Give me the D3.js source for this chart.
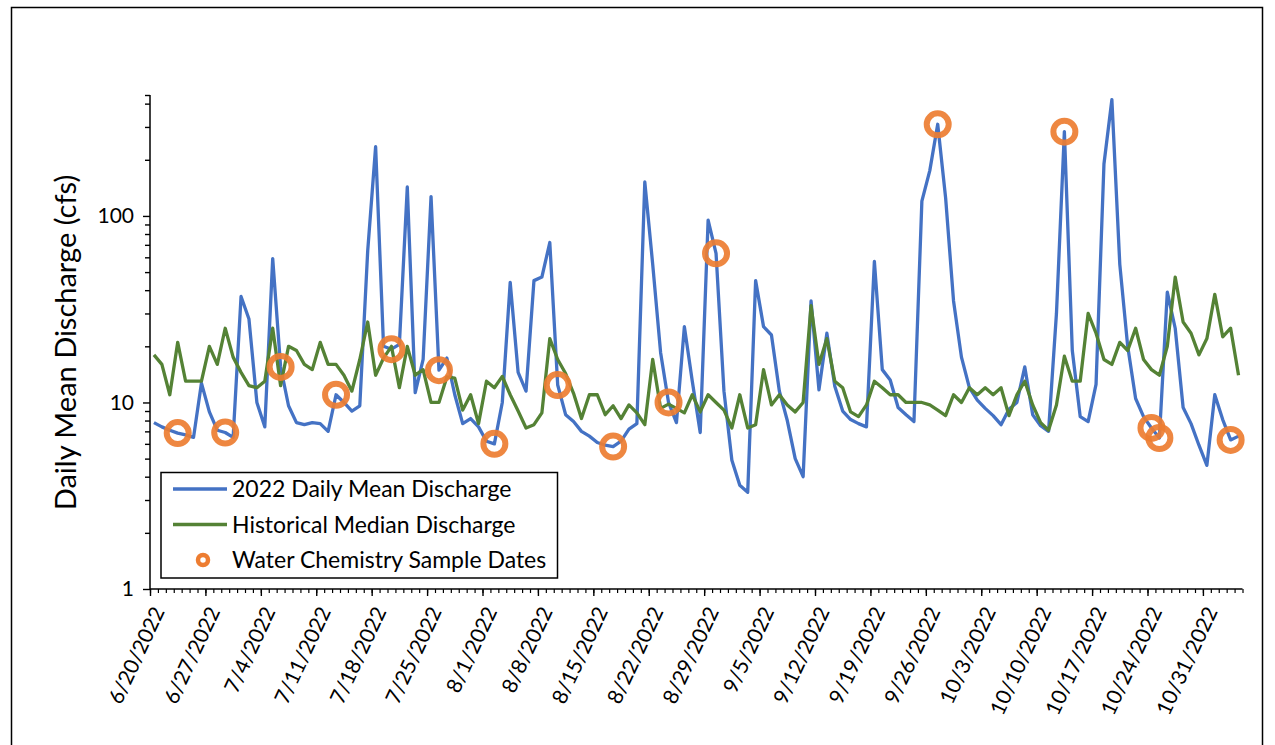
<!DOCTYPE html>
<html>
<head>
<meta charset="utf-8">
<script src="https://cdn.jsdelivr.net/npm/d3@7"></script>
<style>
  html, body { margin: 0; padding: 0; background: #fff; }
  svg { display: block; }
  text { font-family: Lato, "Open Sans", sans-serif; fill: #000; }
</style>
</head>
<body>
<svg id="chart" width="1275" height="745"></svg>
<script>
// ---- data ----
const startDate = "2022-06-20";
const endDate = "2022-11-05"; // exclusive
const dailyMean2022 = [
  7.8, 7.4, 7.1, 6.85, 6.7, 6.5, 12.7, 8.9, 7.1, 6.9,
  6.5, 37, 28, 10, 7.4, 59, 15.5, 9.6, 7.8, 7.6,
  7.8, 7.7, 7.0, 11, 10, 9.0, 9.6, 65, 235, 20,
  19.3, 20.5, 143, 11.3, 17, 127, 14.9, 17.3, 11, 7.7,
  8.2, 7.4, 6.2, 6.0, 10, 44, 14.5, 11.5, 45, 47,
  72, 12.4, 8.6, 7.9, 7.0, 6.6, 6.1, 5.9, 5.8, 6.2,
  7.2, 7.7, 152, 55, 18.5, 10, 7.8, 25.5, 13, 6.9,
  95, 63, 11.5, 4.9, 3.6, 3.3, 45, 25.5, 23, 11.5,
  8.0, 5.0, 4.0, 35, 11.7, 23.5, 12.2, 9.0, 8.1, 7.7,
  7.4, 57, 15, 13.2, 9.4, 8.6, 7.9, 120, 175, 310,
  125, 35, 17.5, 12, 10.3, 9.3, 8.5, 7.6, 9.2, 10,
  15.5, 8.6, 7.5, 7.0, 30, 283, 19, 8.4, 7.9, 12.5,
  190, 420, 55, 20, 10.5, 8.4, 7.3, 6.45, 39, 25,
  9.4, 7.7, 5.9, 4.6, 11, 8.1, 6.3, 6.6
];
const historicalMedian = [
  18, 16, 11, 21, 13, 13, 13, 20, 16, 25,
  17.5, 14.5, 12.3, 12, 13, 25, 12.3, 20, 19, 16,
  15, 21, 16, 16, 14, 11.5, 17, 27, 14, 17.3,
  20, 12, 20, 14, 15, 10, 10, 13.7, 13.5, 9.1,
  11, 7.7, 13, 12, 13.8, 11, 9, 7.3, 7.6, 8.8,
  22, 17, 14.3, 11.2, 8.2, 11, 11, 8.6, 9.6, 8.2,
  9.7, 8.8, 7.6, 17, 9.3, 9.8, 9.3, 8.8, 11, 8.9,
  11, 10, 9.1, 7.3, 11, 7.3, 7.6, 15, 9.7, 11,
  9.7, 8.9, 10, 33, 16, 22, 13, 12, 8.9, 8.4,
  9.7, 13, 12, 11, 11, 10, 10, 10, 9.7, 9.1,
  8.5, 11, 10, 12, 11, 12, 11, 12, 8.5, 11,
  13, 9.7, 7.8, 7.1, 9.7, 17.7, 13, 13, 30, 23.5,
  17, 16, 21, 19, 25, 17, 15, 14, 20, 47,
  27, 23.5, 18, 22, 38, 22.5, 25, 14
];
const sampleDates = [
  "2022-06-23", "2022-06-29", "2022-07-06", "2022-07-13", "2022-07-20", "2022-07-26",
  "2022-08-02", "2022-08-10", "2022-08-17", "2022-08-24", "2022-08-30", "2022-09-27",
  "2022-10-13", "2022-10-24", "2022-10-25", "2022-11-03"
];
const sampleValues = [6.85, 6.9, 15.5, 11, 19.3, 14.9, 6.0, 12.4, 5.8, 10, 63, 310, 283, 7.3, 6.45, 6.3];
const yMajorTicks = [1, 10, 100];
const yMinorTicks = [2,3,4,5,6,7,8,9,20,30,40,50,60,70,80,90,200,300,400];
const yMax = 445;
const seriesNames = ["2022 Daily Mean Discharge", "Historical Median Discharge", "Water Chemistry Sample Dates"];
const colors = { blue: "#4472C4", green: "#548235", orange: "#ED7D31" };

// ---- setup ----
const svg = d3.select("#chart");
const parse = d3.utcParse("%Y-%m-%d");
const d0 = parse(startDate), d1 = parse(endDate);
const days = d3.utcDay.range(d0, d1);
const mid = d => d3.utcHour.offset(d, 12);

const plot = { left: 150, right: 1242.5, top: 95, bottom: 589 };
const x = d3.scaleUtc().domain([d0, d1]).range([plot.left, plot.right]);
const y = d3.scaleLog().domain([1, yMax]).range([plot.bottom, plot.top]);

// outer border
svg.append("rect").attr("x", 11.5).attr("y", 7.5).attr("width", 1251).attr("height", 800)
  .attr("fill", "none").attr("stroke", "#000").attr("stroke-width", 1.5);

// ---- x axis ----
const weekTicks = days.filter((d, i) => i % 7 === 0);
const gx = svg.append("g").attr("transform", `translate(0,${plot.bottom})`);
gx.call(d3.axisBottom(x).tickValues(d3.utcDay.range(d0, d3.utcDay.offset(d1, 1))).tickSize(4).tickFormat(""))
  .call(g => g.select(".domain").remove());
gx.selectAll(".tick line").attr("stroke", "#000").attr("stroke-width", 1.2);
const gx2 = svg.append("g").attr("transform", `translate(0,${plot.bottom})`);
gx2.call(d3.axisBottom(x).tickValues(weekTicks).tickSize(7).tickFormat(d3.utcFormat("%-m/%-d/%Y")))
  .call(g => g.select(".domain").remove());
gx2.selectAll(".tick line").attr("stroke", "#000").attr("stroke-width", 1.4);
gx2.selectAll(".tick text")
  .attr("font-size", 21)
  .attr("text-anchor", "end")
  .attr("y", 0).attr("dy", "0.35em")
  .attr("transform", "translate(8,19) rotate(-65)");
svg.append("line").attr("x1", plot.left).attr("x2", plot.right).attr("y1", plot.bottom).attr("y2", plot.bottom)
  .attr("stroke", "#000").attr("stroke-width", 1.5);

// ---- y axis ----
const gyMinor = svg.append("g").attr("transform", `translate(${plot.left},0)`);
gyMinor.call(d3.axisLeft(y).tickValues(yMinorTicks.concat([yMax])).tickSize(5).tickFormat(""))
  .call(g => g.select(".domain").remove());
gyMinor.selectAll(".tick line").attr("stroke", "#000").attr("stroke-width", 1.4);
const gy = svg.append("g").attr("transform", `translate(${plot.left},0)`);
gy.call(d3.axisLeft(y).tickValues(yMajorTicks).tickSize(7).tickFormat(d3.format("d")))
  .call(g => g.select(".domain").remove());
gy.selectAll(".tick line").attr("stroke", "#000").attr("stroke-width", 1.4);
gy.selectAll(".tick text").attr("font-size", 21).attr("x", -16);
svg.append("line").attr("x1", plot.left).attr("x2", plot.left).attr("y1", plot.top).attr("y2", plot.bottom)
  .attr("stroke", "#000").attr("stroke-width", 1.5);

svg.append("text")
  .attr("transform", `translate(76,${(173 + 512) / 2}) rotate(-90)`)
  .attr("text-anchor", "middle")
  .attr("font-size", 29)
  .text("Daily Mean Discharge (cfs)");

// ---- series ----
const line = d3.line().x((v, i) => x(mid(days[i]))).y(v => y(v));
svg.append("path").datum(dailyMean2022).attr("d", line)
  .attr("fill", "none").attr("stroke", colors.blue).attr("stroke-width", 3.3).attr("stroke-linejoin", "round");
svg.append("path").datum(historicalMedian).attr("d", line)
  .attr("fill", "none").attr("stroke", colors.green).attr("stroke-width", 3.3).attr("stroke-linejoin", "round");

svg.append("g").selectAll("circle").data(sampleDates).join("circle")
  .attr("cx", d => x(mid(parse(d))))
  .attr("cy", (d, i) => y(sampleValues[i]))
  .attr("r", 11)
  .attr("fill", "none")
  .attr("stroke", colors.orange)
  .attr("stroke-width", 6)
  .attr("stroke-opacity", 0.92);

// ---- legend ----
const lg = svg.append("g");
lg.append("rect").attr("x", 161).attr("y", 472.5).attr("width", 396.5).attr("height", 105.5)
  .attr("fill", "#fff").attr("stroke", "#000").attr("stroke-width", 1.5);
const rowsY = [489, 524.5, 560];
[colors.blue, colors.green].forEach((c, i) => {
  lg.append("line").attr("x1", 173).attr("x2", 227).attr("y1", rowsY[i]).attr("y2", rowsY[i])
    .attr("stroke", c).attr("stroke-width", 3.3);
});
lg.append("circle").attr("cx", 203).attr("cy", rowsY[2]).attr("r", 5)
  .attr("fill", "#fff").attr("stroke", colors.orange).attr("stroke-width", 4.5);
seriesNames.forEach((n, i) => {
  lg.append("text").attr("x", 232).attr("y", rowsY[i]).attr("dy", "0.35em")
    .attr("font-size", 23).text(n);
});
</script>
</body>
</html>
